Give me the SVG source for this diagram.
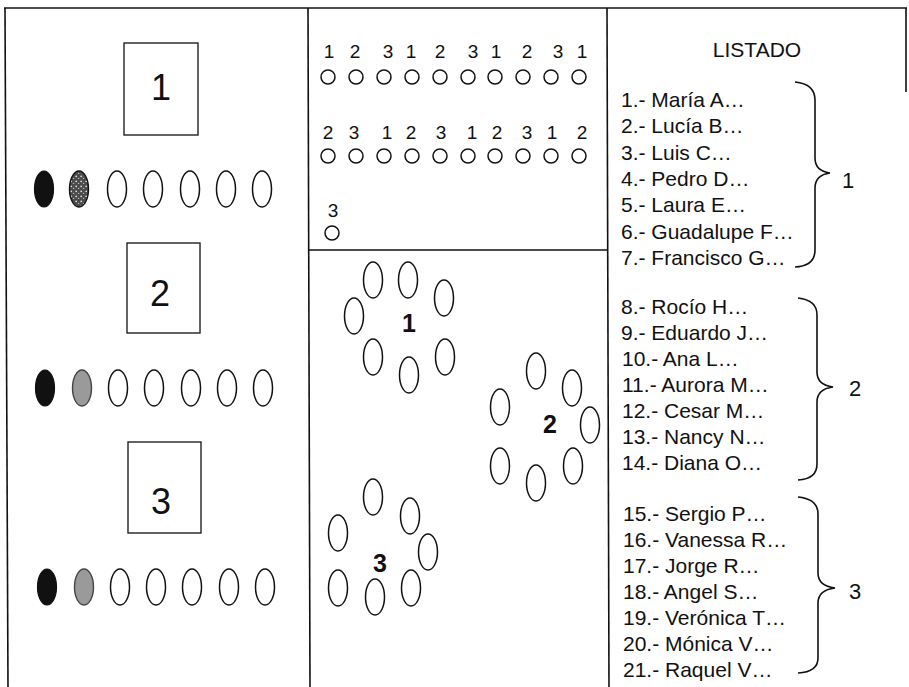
<svg xmlns="http://www.w3.org/2000/svg" width="909" height="687" viewBox="0 0 909 687">
<style>
.frame{stroke:#111;stroke-width:1.6;fill:none}
.box{fill:#fff;stroke:#222;stroke-width:1.4}
.seat{fill:#fff;stroke:#111;stroke-width:1.5}
.dot{fill:#fff;stroke:#111;stroke-width:1.5}
.black{fill:#111;stroke:#111;stroke-width:1.2}
.grey{fill:#9a9a9a;stroke:#444;stroke-width:1.4}
.brace{fill:none;stroke:#111;stroke-width:1.6}
text{font-family:"Liberation Sans",Arial,sans-serif;fill:#111}
.big{font-size:36px;text-anchor:middle}
.num{font-size:19px;text-anchor:middle}
.bold{font-size:25px;font-weight:bold;text-anchor:middle}
.list{font-size:21px}
.grp{font-size:22px;text-anchor:middle}
</style>
<defs>
<pattern id="speck" width="5" height="5" patternUnits="userSpaceOnUse">
<rect width="5" height="5" fill="#4a4a4a"/>
<circle cx="1.2" cy="1.3" r="0.9" fill="#ddd"/>
<circle cx="3.6" cy="3.4" r="0.7" fill="#bbb"/>
</pattern>
</defs>
<rect width="909" height="687" fill="#fff"/>

<g id="frame">
<line class="frame" x1="4" y1="8" x2="907" y2="8"/>
<line class="frame" x1="5" y1="8" x2="8" y2="687"/>
<line class="frame" x1="308" y1="8" x2="310" y2="687"/>
<line class="frame" x1="607" y1="8" x2="609" y2="687"/>
<line class="frame" x1="906" y1="8" x2="906" y2="92"/>
<line class="frame" x1="309" y1="250" x2="608" y2="250"/>
</g>

<g id="box-1">
<rect class="box" x="124" y="43" width="74" height="92"/>
<text class="big" x="161" y="100">1</text>
</g>
<g id="row-1">
<ellipse class="black" cx="44" cy="189" rx="9.5" ry="18"/>
<ellipse cx="79" cy="189" rx="9.5" ry="18" fill="url(#speck)" stroke="#111" stroke-width="1.4"/>
<ellipse class="seat" cx="117" cy="189" rx="9.5" ry="18"/>
<ellipse class="seat" cx="153" cy="189" rx="9.5" ry="18"/>
<ellipse class="seat" cx="190" cy="189" rx="9.5" ry="18"/>
<ellipse class="seat" cx="226" cy="189" rx="9.5" ry="18"/>
<ellipse class="seat" cx="262" cy="189" rx="9.5" ry="18"/>
</g>

<g id="box-2">
<rect class="box" x="127" y="243" width="73" height="90"/>
<text class="big" x="160" y="306">2</text>
</g>
<g id="row-2">
<ellipse class="black" cx="45" cy="388" rx="9.5" ry="18"/>
<ellipse class="grey" cx="82" cy="388" rx="9.5" ry="18"/>
<ellipse class="seat" cx="118" cy="388" rx="9.5" ry="18"/>
<ellipse class="seat" cx="154" cy="388" rx="9.5" ry="18"/>
<ellipse class="seat" cx="191" cy="388" rx="9.5" ry="18"/>
<ellipse class="seat" cx="227" cy="388" rx="9.5" ry="18"/>
<ellipse class="seat" cx="263" cy="388" rx="9.5" ry="18"/>
</g>

<g id="box-3">
<rect class="box" x="128" y="442" width="73" height="91"/>
<text class="big" x="161" y="514">3</text>
</g>
<g id="row-3">
<ellipse class="black" cx="47" cy="587" rx="9.5" ry="18"/>
<ellipse class="grey" cx="84" cy="587" rx="9.5" ry="18"/>
<ellipse class="seat" cx="120" cy="587" rx="9.5" ry="18"/>
<ellipse class="seat" cx="156" cy="587" rx="9.5" ry="18"/>
<ellipse class="seat" cx="192" cy="587" rx="9.5" ry="18"/>
<ellipse class="seat" cx="229" cy="587" rx="9.5" ry="18"/>
<ellipse class="seat" cx="265" cy="587" rx="9.5" ry="18"/>
</g>

<g id="count-row-1">
<text class="num" x="329" y="58">1</text>
<text class="num" x="355" y="58">2</text>
<text class="num" x="388" y="58">3</text>
<text class="num" x="411" y="58">1</text>
<text class="num" x="440" y="58">2</text>
<text class="num" x="473" y="58">3</text>
<text class="num" x="496" y="58">1</text>
<text class="num" x="527" y="58">2</text>
<text class="num" x="558" y="58">3</text>
<text class="num" x="582" y="58">1</text>
<circle class="dot" cx="328" cy="77" r="7"/>
<circle class="dot" cx="356" cy="77" r="7"/>
<circle class="dot" cx="384" cy="77" r="7"/>
<circle class="dot" cx="412" cy="77" r="7"/>
<circle class="dot" cx="440" cy="77" r="7"/>
<circle class="dot" cx="468" cy="77" r="7"/>
<circle class="dot" cx="495" cy="77" r="7"/>
<circle class="dot" cx="523" cy="77" r="7"/>
<circle class="dot" cx="551" cy="77" r="7"/>
<circle class="dot" cx="579" cy="77" r="7"/>
</g>
<g id="count-row-2">
<text class="num" x="328" y="139">2</text>
<text class="num" x="354" y="139">3</text>
<text class="num" x="387" y="139">1</text>
<text class="num" x="411" y="139">2</text>
<text class="num" x="441" y="139">3</text>
<text class="num" x="472" y="139">1</text>
<text class="num" x="497" y="139">2</text>
<text class="num" x="527" y="139">3</text>
<text class="num" x="552" y="139">1</text>
<text class="num" x="582" y="139">2</text>
<circle class="dot" cx="328" cy="156" r="7"/>
<circle class="dot" cx="356" cy="156" r="7"/>
<circle class="dot" cx="384" cy="156" r="7"/>
<circle class="dot" cx="412" cy="156" r="7"/>
<circle class="dot" cx="440" cy="156" r="7"/>
<circle class="dot" cx="468" cy="156" r="7"/>
<circle class="dot" cx="495" cy="156" r="7"/>
<circle class="dot" cx="523" cy="156" r="7"/>
<circle class="dot" cx="551" cy="156" r="7"/>
<circle class="dot" cx="579" cy="156" r="7"/>
</g>
<g id="count-row-3">
<text class="num" x="333" y="217">3</text>
<circle class="dot" cx="332" cy="233" r="7"/>
</g>

<g id="team-1">
<ellipse class="seat" cx="373" cy="280" rx="9.5" ry="18"/>
<ellipse class="seat" cx="408" cy="280" rx="9.5" ry="18"/>
<ellipse class="seat" cx="444" cy="298" rx="9.5" ry="18"/>
<ellipse class="seat" cx="354" cy="316" rx="9.5" ry="18"/>
<ellipse class="seat" cx="373" cy="357" rx="9.5" ry="18"/>
<ellipse class="seat" cx="445" cy="357" rx="9.5" ry="18"/>
<ellipse class="seat" cx="409" cy="375" rx="9.5" ry="18"/>
<text class="bold" x="409" y="332">1</text>
</g>
<g id="team-2">
<ellipse class="seat" cx="536" cy="371" rx="9.5" ry="18"/>
<ellipse class="seat" cx="572" cy="388" rx="9.5" ry="18"/>
<ellipse class="seat" cx="500" cy="407" rx="9.5" ry="18"/>
<ellipse class="seat" cx="590" cy="425" rx="9.5" ry="18"/>
<ellipse class="seat" cx="500" cy="466" rx="9.5" ry="18"/>
<ellipse class="seat" cx="536" cy="483" rx="9.5" ry="18"/>
<ellipse class="seat" cx="573" cy="466" rx="9.5" ry="18"/>
<text class="bold" x="550" y="433">2</text>
</g>
<g id="team-3">
<ellipse class="seat" cx="373" cy="497" rx="9.5" ry="18"/>
<ellipse class="seat" cx="410" cy="516" rx="9.5" ry="18"/>
<ellipse class="seat" cx="338" cy="533" rx="9.5" ry="18"/>
<ellipse class="seat" cx="428" cy="552" rx="9.5" ry="18"/>
<ellipse class="seat" cx="338" cy="588" rx="9.5" ry="18"/>
<ellipse class="seat" cx="375" cy="597" rx="9.5" ry="18"/>
<ellipse class="seat" cx="411" cy="588" rx="9.5" ry="18"/>
<text class="bold" x="380" y="572">3</text>
</g>

<g id="listado">
<text x="757" y="57" font-size="21" text-anchor="middle">LISTADO</text>
</g>
<g id="list-1">
<text class="list" x="621" y="107">1.- María A…</text>
<text class="list" x="621" y="133">2.- Lucía B…</text>
<text class="list" x="621" y="160">3.- Luis C…</text>
<text class="list" x="621" y="186">4.- Pedro D…</text>
<text class="list" x="621" y="212">5.- Laura E…</text>
<text class="list" x="621" y="239">6.- Guadalupe F…</text>
<text class="list" x="621" y="265">7.- Francisco G…</text>
</g>
<g id="list-2">
<text class="list" x="621" y="314">8.- Rocío H…</text>
<text class="list" x="621" y="340">9.- Eduardo J…</text>
<text class="list" x="622" y="366">10.- Ana L…</text>
<text class="list" x="622" y="392">11.- Aurora M…</text>
<text class="list" x="622" y="418">12.- Cesar M…</text>
<text class="list" x="622" y="444">13.- Nancy N…</text>
<text class="list" x="622" y="470">14.- Diana O…</text>
</g>
<g id="list-3">
<text class="list" x="623" y="521">15.- Sergio P…</text>
<text class="list" x="623" y="547">16.- Vanessa R…</text>
<text class="list" x="623" y="573">17.- Jorge R…</text>
<text class="list" x="623" y="599">18.- Angel S…</text>
<text class="list" x="623" y="625">19.- Verónica T…</text>
<text class="list" x="623" y="651">20.- Mónica V…</text>
<text class="list" x="623" y="677">21.- Raquel V…</text>
</g>

<g id="connectors">
<path class="brace" d="M795,82 Q815,84 815,100 L815,158 Q815,171 830,173 Q815,175 815,188 L815,250 Q815,266 795,267"/>
<path class="brace" d="M798,298 Q817,300 817,315 L817,372 Q817,385 833,387 Q817,389 817,402 L817,464 Q817,479 798,480"/>
<path class="brace" d="M798,497 Q818,499 818,514 L818,573 Q818,586 835,588 Q818,590 818,603 L818,658 Q818,672 798,673"/>
</g>
<g id="group-labels">
<text class="grp" x="848" y="188">1</text>
<text class="grp" x="855" y="396">2</text>
<text class="grp" x="855" y="599">3</text>
</g>
</svg>
